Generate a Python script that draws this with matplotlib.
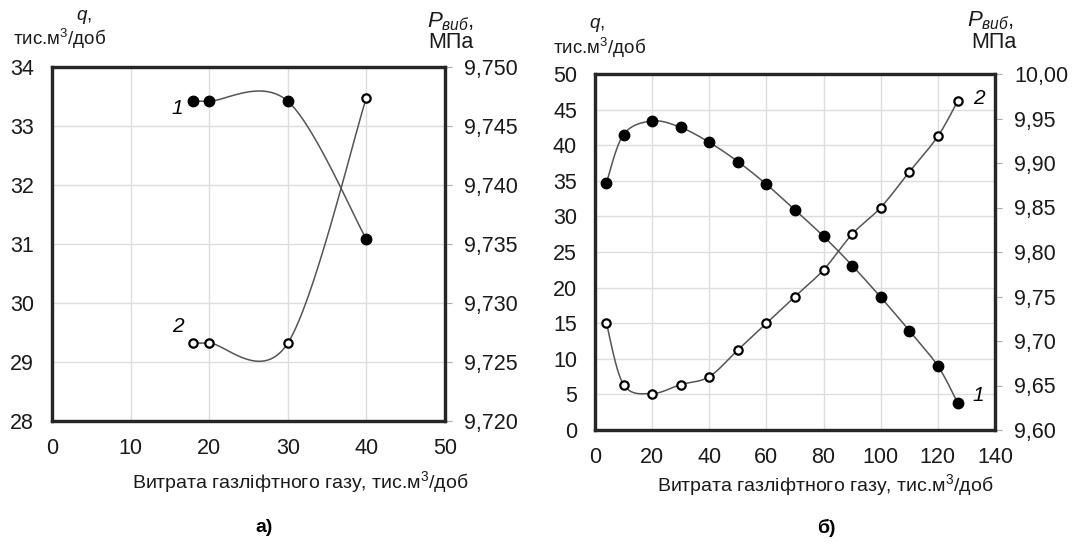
import numpy as np
import matplotlib
matplotlib.use("Agg")
import matplotlib.pyplot as plt
from matplotlib.ticker import FuncFormatter, MultipleLocator

plt.rcParams["font.family"] = ["Liberation Sans", "DejaVu Sans"]
plt.rcParams["mathtext.fontset"] = "custom"
plt.rcParams["mathtext.it"] = "Liberation Sans:italic"
plt.rcParams["mathtext.rm"] = "Liberation Sans"

# panel a)
a_x = [18, 20, 30, 40]
a_q = [33.42, 33.42, 33.42, 31.08]
a_p = [9.7266, 9.7266, 9.7266, 9.7474]

# panel б)
b_x = [4, 10, 20, 30, 40, 50, 60, 70, 80, 90, 100, 110, 120, 127]
b_q = [34.7, 41.5, 43.4, 42.5, 40.4, 37.7, 34.5, 30.9, 27.2, 23.1, 18.65, 13.96, 9.0, 3.75]
b_p = [9.720, 9.651, 9.641, 9.651, 9.660, 9.690, 9.720, 9.750, 9.780, 9.820,
       9.850, 9.890, 9.930, 9.970]

x_label = "Витрата газліфтного газу, тис.м$^3$/доб"
LINE = "#555555"
TXT = "#1a1a1a"
W, H = 1073, 549


def smooth(ax, xs, ys, n=30):
    # Excel-style smoothed line (bezier through points, in screen space)
    pts = ax.transData.transform(np.column_stack([xs, ys]))
    p = np.vstack([pts[0], pts, pts[-1]])
    out = []
    t = np.linspace(0, 1, n)[:, None]
    for i in range(1, len(p) - 2):
        p0, p3 = p[i], p[i + 1]
        b1 = p0 + (p[i + 1] - p[i - 1]) / 6
        b2 = p3 - (p[i + 2] - p[i]) / 6
        seg = ((1 - t) ** 3) * p0 + 3 * ((1 - t) ** 2) * t * b1 + 3 * (1 - t) * t ** 2 * b2 + t ** 3 * p3
        out.append(seg)
    d = ax.transData.inverted().transform(np.vstack(out))
    ax.plot(d[:, 0], d[:, 1], color=LINE, lw=1.1, zorder=2)


def comma(dec):
    return FuncFormatter(lambda v, _: f"{v:.{dec}f}".replace(".", ","))


def px(x, y, **kw):
    fig.text(x / W, 1 - y / H, **kw)


def panel(box, xs, q, p, xlim, xstep, qlim, qstep, plim, pstep, pdec):
    l, t, r, b = box
    ax = fig.add_axes([l / W, 1 - b / H, (r - l) / W, (b - t) / H])
    ax2 = ax.twinx()
    ax.set_xlim(*xlim)
    ax.set_ylim(*qlim)
    ax2.set_ylim(*plim)
    ax.xaxis.set_major_locator(MultipleLocator(xstep))
    ax.yaxis.set_major_locator(MultipleLocator(qstep))
    ax2.yaxis.set_major_locator(MultipleLocator(pstep))
    ax2.yaxis.set_major_formatter(comma(pdec))
    ax.grid(True, color="#dddddd", lw=1.0)
    ax.set_axisbelow(True)
    for a in (ax, ax2):
        for s in a.spines.values():
            s.set_linewidth(2.3)
            s.set_color("#262626")
    ax.tick_params(axis="y", length=0, labelsize=15.5, colors=TXT, pad=13)
    ax.tick_params(axis="x", length=0, labelsize=15.5, colors=TXT, pad=12)
    ax2.tick_params(axis="y", length=5, color="#aaaaaa", labelsize=15.5, labelcolor=TXT, pad=9)
    smooth(ax, xs, q)
    smooth(ax2, xs, p)
    ax.plot(xs, q, "o", ms=7.5, color="black", zorder=3)
    ax2.plot(xs, p, "o", ms=6, mfc="white", mec="black", mew=1.6, zorder=3)
    return ax, ax2


fig = plt.figure(figsize=(W / 100, H / 100), dpi=100)

ax, ax2 = panel((52, 67, 445, 421), a_x, a_q, a_p,
                (0, 50), 10, (28, 34), 1, (9.720, 9.750), 0.005, 3)
ax.text(16.0, 33.3, "1", style="italic", fontsize=15, ha="center", va="center")
ax.text(16.0, 29.6, "2", style="italic", fontsize=15, ha="center", va="center")

bx, bx2 = panel((595, 74, 995, 430), b_x, b_q, b_p,
                (0, 140), 20, (0, 50), 5, (9.60, 10.00), 0.05, 2)
bx.text(134.5, 46.6, "2", style="italic", fontsize=15, ha="center", va="center")
bx.text(134.0, 4.8, "1", style="italic", fontsize=15, ha="center", va="center")

# x axis titles
px(300, 482, s=x_label, fontsize=14, ha="center", va="center", color=TXT)
px(825, 485, s=x_label, fontsize=14, ha="center", va="center", color=TXT)

# y axis titles
px(84, 17, s="$q$,", fontsize=13.5, ha="center", va="center", color=TXT)
px(60, 39, s="тис.м$^3$/доб", fontsize=13.5, ha="center", va="center", color=TXT)
px(451, 22, s="$P_{виб}$,", fontsize=16, ha="center", va="center", color=TXT)
px(451, 43, s="МПа", fontsize=15.5, ha="center", va="center", color=TXT)

px(597, 25, s="$q$,", fontsize=13.5, ha="center", va="center", color=TXT)
px(600, 48, s="тис.м$^3$/доб", fontsize=13.5, ha="center", va="center", color=TXT)
px(991, 21, s="$P_{виб}$,", fontsize=16, ha="center", va="center", color=TXT)
px(994, 43, s="МПа", fontsize=15.5, ha="center", va="center", color=TXT)

# panel captions
px(264, 528, s="а)", fontsize=14, fontweight="bold", ha="center", va="center")
px(826, 528, s="б)", fontsize=14, fontweight="bold", ha="center", va="center")

fig.savefig("out.png", dpi=100)
